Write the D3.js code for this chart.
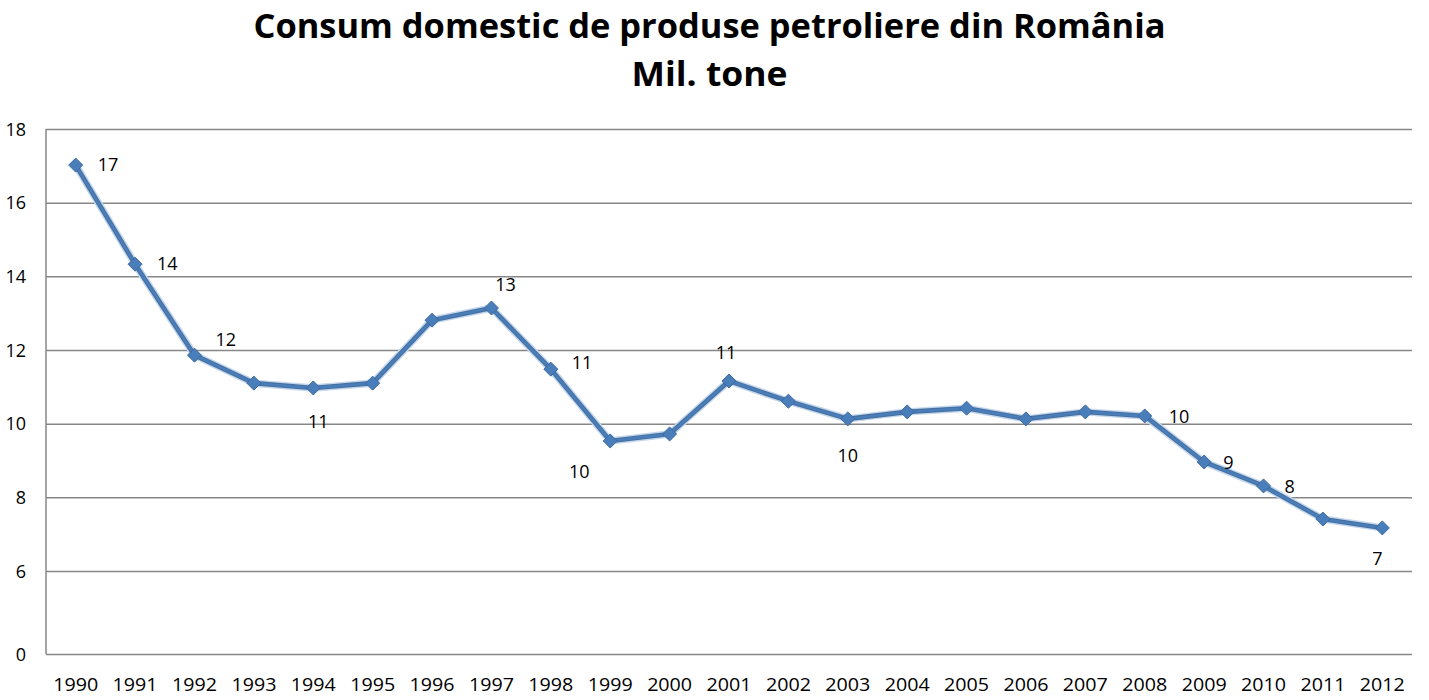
<!DOCTYPE html>
<html>
<head>
<meta charset="utf-8">
<script src="https://cdn.jsdelivr.net/npm/d3@7"></script>
<style>
  html, body { margin: 0; padding: 0; background: #fff; }
  svg { display: block; }
</style>
</head>
<body>
<svg id="chart" width="1429" height="700"></svg>
<script>
// ---------------- DATA ----------------
const titleLines = ["Consum domestic de produse petroliere din România", "Mil. tone"];
const years = ["1990","1991","1992","1993","1994","1995","1996","1997","1998","1999","2000","2001",
               "2002","2003","2004","2005","2006","2007","2008","2009","2010","2011","2012"];
const consumption = [17.02, 14.33, 11.86, 11.10, 10.97, 11.10, 12.81, 13.14, 11.48, 9.53, 9.72, 11.16,
                     10.61, 10.13, 10.32, 10.42, 10.13, 10.32, 10.21, 8.96, 8.31, 7.41, 7.17];
const yTicks = [0, 6, 8, 10, 12, 14, 16, 18];
const labeledYears = ["1990","1991","1992","1994","1997","1998","1999","2001","2003","2008","2009","2010","2012"];

// ---------------- LAYOUT / STYLE ----------------
const W = 1429, H = 700;
const plot = { left: 46, right: 1412, top: 129, bottom: 654 };
const labelPlacement = {
  "1990": [22, 0, "start"], "1991": [22, 0, "start"], "1992": [21, -15, "start"],
  "1994": [5, 34, "middle"], "1997": [14, -23, "middle"], "1998": [21, -6, "start"],
  "1999": [-31, 31, "middle"], "2001": [-3, -28, "middle"], "2003": [0, 37, "middle"],
  "2008": [24, 1, "start"], "2009": [19, 1, "start"], "2010": [21, 1, "start"],
  "2012": [-5, 31, "middle"]
};
const lineColor = "#4A7EBB";
const gridColor = "#878787";
const tickFont = "'Open Sans', 'Liberation Sans', sans-serif";
const tickSize = 18;

const svg = d3.select("#chart");

// scales
const x = d3.scaleBand().domain(years).range([plot.left, plot.right]);
// the original axis jumps from 0 directly to 6 (broken axis) — piecewise linear scale
const y = d3.scaleLinear().domain([0, 6, 18]).range([plot.bottom, 571, plot.top]);
const cx = d => x(d) + x.bandwidth() / 2;

// title
const titleSizes = [[34, 912, 38], [34, 156, 86]];
titleLines.forEach((t, i) => {
  svg.append("text")
    .attr("x", W / 2 - 5)
    .attr("y", titleSizes[i][2])
    .attr("text-anchor", "middle")
    .attr("font-family", "'Open Sans', sans-serif")
    .attr("font-weight", "bold")
    .attr("font-size", titleSizes[i][0])
    .attr("textLength", titleSizes[i][1])
    .attr("lengthAdjust", "spacingAndGlyphs")
    .attr("fill", "#000")
    .text(t);
});

// gridlines
const yAxis = d3.axisLeft(y).tickValues(yTicks).tickSize(-(plot.right - plot.left)).tickPadding(20);
const gy = svg.append("g").attr("transform", `translate(${plot.left},0)`).call(yAxis);
gy.select(".domain").remove();
gy.selectAll(".tick line").attr("stroke", gridColor).attr("stroke-width", 1.5);
gy.selectAll(".tick text")
  .attr("font-family", tickFont).attr("font-size", tickSize).attr("fill", "#000")
  .attr("dy", "0.35em");

// vertical axis line
svg.append("line")
  .attr("x1", plot.left).attr("x2", plot.left)
  .attr("y1", y(18)).attr("y2", y(0))
  .attr("stroke", gridColor).attr("stroke-width", 1.5);

// x axis labels
const xAxis = d3.axisBottom(x).tickSize(0).tickPadding(24);
const gx = svg.append("g").attr("transform", `translate(0,${plot.bottom})`).call(xAxis);
gx.select(".domain").remove();
gx.selectAll(".tick text")
  .attr("font-family", tickFont).attr("font-size", tickSize).attr("fill", "#000")
  .attr("textLength", 45).attr("lengthAdjust", "spacingAndGlyphs");

// line
const pts = years.map((yr, i) => [cx(yr), y(consumption[i])]);
const lineGen = d3.line();
svg.append("path").attr("d", lineGen(pts))
  .attr("fill", "none").attr("stroke", "#c4d7ee").attr("stroke-width", 7.5)
  .attr("stroke-linejoin", "round").attr("stroke-linecap", "round");
svg.append("path").attr("d", lineGen(pts))
  .attr("fill", "none").attr("stroke", "#46719f").attr("stroke-width", 4.6)
  .attr("stroke-linejoin", "round").attr("stroke-linecap", "round");
svg.append("path").attr("d", lineGen(pts))
  .attr("fill", "none").attr("stroke", lineColor).attr("stroke-width", 2.4)
  .attr("stroke-linejoin", "round");

// diamond markers
const diamond = d3.symbol().type(d3.symbolDiamond2).size(125);
svg.append("g").selectAll("path").data(pts).join("path")
  .attr("transform", d => `translate(${d[0]},${d[1]})`)
  .attr("d", diamond)
  .attr("fill", lineColor)
  .attr("stroke", "#3d6a9e").attr("stroke-width", 1);

// data labels
const fmt = d3.format(".0f");
svg.append("g").selectAll("text").data(labeledYears).join("text")
  .attr("x", d => cx(d) + labelPlacement[d][0])
  .attr("y", d => y(consumption[years.indexOf(d)]) + labelPlacement[d][1])
  .attr("dy", "0.35em")
  .attr("text-anchor", d => labelPlacement[d][2])
  .attr("font-family", tickFont).attr("font-size", tickSize).attr("fill", "#000")
  .text(d => fmt(consumption[years.indexOf(d)]));
</script>
</body>
</html>
